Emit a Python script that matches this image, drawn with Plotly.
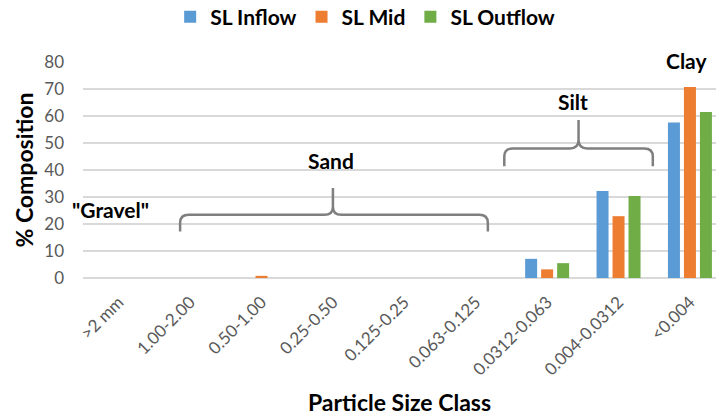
import plotly.graph_objects as go

categories = [">2 mm", "1.00-2.00", "0.50-1.00", "0.25-0.50", "0.125-0.25",
              "0.063-0.125", "0.0312-0.063", "0.004-0.0312", "<0.004"]
sl_inflow = [0, 0, 0, 0, 0, 0, 7.1, 32.2, 57.6]
sl_mid = [0, 0, 0.8, 0, 0, 0, 3.2, 22.9, 70.7]
sl_outflow = [0, 0, 0, 0, 0, 0, 5.5, 30.4, 61.5]
series_names = ["SL Inflow", "SL Mid", "SL Outflow"]
colors = ["#5B9BD5", "#ED7D31", "#70AD47"]

FONT = "Lato"
xpos = list(range(len(categories)))

fig = go.Figure()
for name, vals, c in zip(series_names, [sl_inflow, sl_mid, sl_outflow], colors):
    fig.add_trace(go.Bar(x=xpos, y=vals, name=name, marker=dict(color=c, line=dict(width=0))))

def brace(x0, x1, xc, yb, yh, ytop, dx=0.12, dy=3):
    return (f"M {x0},{yb} L {x0},{yh-dy} Q {x0},{yh} {x0+dx},{yh} "
            f"L {xc-dx},{yh} Q {xc},{yh} {xc},{yh+dy} L {xc},{ytop} "
            f"L {xc},{yh+dy} Q {xc},{yh} {xc+dx},{yh} "
            f"L {x1-dx},{yh} Q {x1},{yh} {x1},{yh-dy} L {x1},{yb}")

brace_color = "#7F7F7F"
fig.add_shape(type="path", xref="x", yref="y", path=brace(0.86, 5.17, 3.0, 17.2, 23.4, 33.3),
              line=dict(color=brace_color, width=2.5))
fig.add_shape(type="path", xref="x", yref="y", path=brace(5.4, 7.48, 6.44, 41.4, 48.0, 58.5),
              line=dict(color=brace_color, width=2.5))

labels = [("Silt", 6.36, 65.2), ("Sand", 2.98, 43.7), ('"Gravel"', -0.12, 25.5)]
for t, x, y in labels:
    fig.add_annotation(x=x, y=y, xref="x", yref="y", text=f"<b>{t}</b>", showarrow=False,
                       font=dict(family=FONT, size=21, color="#000000"))
# "Clay" sits above the top of the value axis
fig.add_annotation(x=7.95, y=86.1 / 80, xref="x", yref="paper", text="<b>Clay</b>", showarrow=False,
                   font=dict(family=FONT, size=21, color="#000000"))

fig.update_layout(
    width=716, height=417,
    margin=dict(l=83, r=0, t=61.5, b=138.7),
    paper_bgcolor="white", plot_bgcolor="white",
    barmode="group", bargap=0.328, bargroupgap=0.25,
    font=dict(family=FONT, color="#595959"),
    showlegend=True,
    legend=dict(orientation="h", xref="container", yref="container", x=0.51, y=0.959,
                xanchor="center", yanchor="middle",
                font=dict(family=FONT, size=21, color="#000000", weight="bold"),
                itemwidth=30, tracegroupgap=0),
    xaxis=dict(range=[-0.5, 8.365], tickmode="array", tickvals=xpos, ticktext=categories,
               tickangle=-45, tickfont=dict(family=FONT, size=17, color="#595959"),
               showgrid=False, zeroline=False, showline=False, ticks="",
               automargin=False, ticklabelstandoff=10,
               title=dict(text="<b>Particle Size Class</b>", font=dict(family=FONT, size=23, color="#000000"),
                          standoff=16)),
    yaxis=dict(range=[0, 80], dtick=10, showgrid=True, gridcolor="#D9D9D9", gridwidth=1.5,
               zeroline=True, zerolinecolor="#D9D9D9", zerolinewidth=1.5, automargin=False,
               tickfont=dict(family=FONT, size=17, color="#595959"), ticklabelstandoff=18,
               title=dict(text="<b>% Composition</b>", font=dict(family=FONT, size=23, color="#000000"),
                          standoff=4)),
)

fig.write_html("out.html")
